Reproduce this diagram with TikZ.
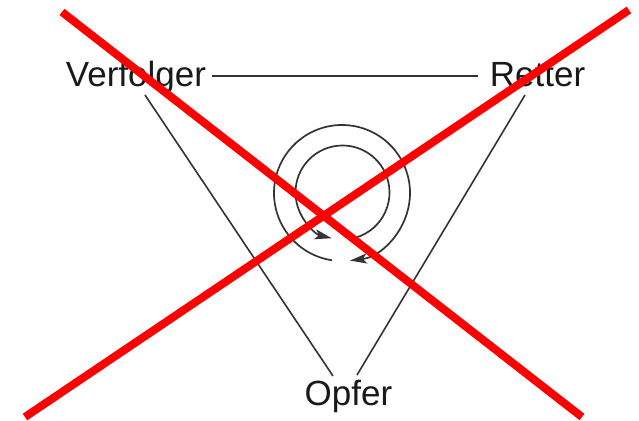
\documentclass[tikz,border=0pt]{standalone}
\usepackage{fontspec}
\setmainfont{Liberation Sans}
\usetikzlibrary{arrows.meta,calc}
\begin{document}
\begin{tikzpicture}[x=1pt,y=1pt,
  lbl/.style={anchor=base,inner sep=0pt,font=\fontsize{35}{40}\selectfont,text=black!90},
  conn/.style={line width=1.6pt,draw=black!80},
  cyc/.style={line width=1.7pt,draw=black!80,-{Stealth[length=17pt,width=10pt,inset=4pt]}},
  cross/.style={line width=8pt,draw=red}]
\useasboundingbox (0,0) rectangle (639,420);
\fill[white] (0,0) rectangle (639,420);
\node[lbl] (V) at (136,333) {Verfolger};
\node[lbl] (R) at (537.5,333) {Retter};
\node[lbl] (O) at (348.5,15) {Opfer};
\draw[conn] ($(V.base)+(76,11)$) -- ($(R.base)+(-59.5,11)$);
\draw[conn] ($(V.base)+(9,-8)$) -- ($(O.base)+(-15.5,29)$);
\draw[conn] ($(R.base)+(-12.5,-8)$) -- ($(O.base)+(8.5,30)$);
\draw[cyc] (342,227) ++(261.5:68) arc[start angle=261.5,end angle=-83.3,radius=68];
\draw[cyc] (342.5,227.5) ++(-72.2:47) arc[start angle=-72.2,end angle=256.7,radius=47];
\draw[cross] (62,408) -- (582,3);
\draw[cross] (629,410) -- (25,3);
\end{tikzpicture}
\end{document}
